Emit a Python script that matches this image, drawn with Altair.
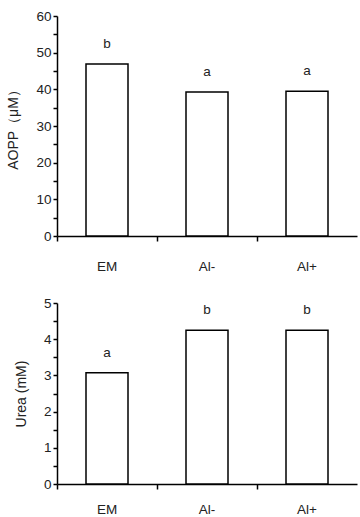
import altair as alt
import pandas as pd

groups = ["EM", "Al-", "Al+"]
aopp = [46.9, 39.3, 39.5]
aopp_letters = ["b", "a", "a"]
urea = [3.07, 4.25, 4.25]
urea_letters = ["a", "b", "b"]

df1 = pd.DataFrame({"g": groups, "v": aopp, "lab": aopp_letters})
df2 = pd.DataFrame({"g": groups, "v": urea, "lab": urea_letters})

FONT = "Liberation Sans"
TXT = "#222222"


def panel(df, title, ymax, step, major, h, xpad):
    xenc = alt.X("g:N", sort=groups, title=None,
                 scale=alt.Scale(paddingInner=0, paddingOuter=0),
                 axis=alt.Axis(labelAngle=0, bandPosition=0, labelPadding=xpad,
                               tickSize=5, tickColor="black", tickWidth=1.5,
                               domainColor="black", domainWidth=1.5,
                               labelFontSize=13.5, labelColor=TXT, labelFont=FONT))
    vals = [round(i * step, 3) for i in range(int(round(ymax / step)) + 1)]
    yenc = alt.Y("v:Q", title=title,
                 scale=alt.Scale(domain=[0, ymax], nice=False),
                 axis=alt.Axis(values=vals, grid=False, tickSize=4, tickColor="black",
                               tickWidth=1.5, domainColor="black", domainWidth=1.5,
                               labelExpr=f"abs(datum.value % {major}) < 1e-6 ? format(datum.value, 'd') : ''",
                               labelFontSize=13.5, labelColor=TXT, labelFont=FONT,
                               titleFontSize=14, titleFontWeight="normal", titleColor=TXT,
                               titleFont=FONT, titlePadding=15, labelPadding=2))
    base = alt.Chart(df).encode(x=xenc, y=yenc)
    bars = base.mark_bar(width=42, fill="white", stroke="black", strokeWidth=1.5)
    txt = base.mark_text(dy=-20, fontSize=13.5, font=FONT, color=TXT).encode(text="lab:N")
    return alt.layer(bars, txt).properties(width=300, height=h)


top = panel(df1, "AOPP（μM）", 60, 5, 10, 220, 18)
bot = panel(df2, "Urea (mM)", 5, 0.5, 1, 181, 13)

chart = alt.vconcat(top, bot, spacing=67, bounds="flush").properties(
    padding={"left": 6, "top": 9, "right": 2, "bottom": 2}
).configure_view(stroke=None)

chart.save("out.html", embed_options={"renderer": "svg", "actions": False})
